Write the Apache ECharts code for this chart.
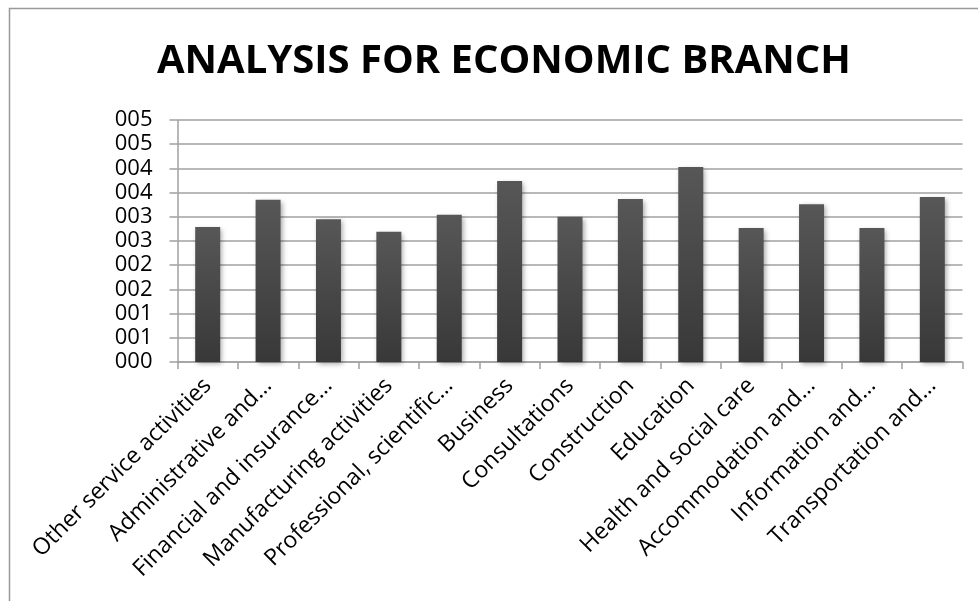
<!DOCTYPE html>
<html>
<head>
<meta charset="utf-8">
<script src="https://cdn.jsdelivr.net/npm/echarts@6/dist/echarts.min.js"></script>
<style>
  html, body { margin: 0; padding: 0; background: #fff; }
  #chart { width: 978px; height: 601px; }
</style>
</head>
<body>
<div id="chart"></div>
<script>
// branch names as shown on the axis (truncated like the original)
const branches = [
  'Other service activities',
  'Administrative and…',
  'Financial and insurance…',
  'Manufacturing activities',
  'Professional, scientific…',
  'Business',
  'Consultations',
  'Construction',
  'Education',
  'Health and social care',
  'Accommodation and…',
  'Information and…',
  'Transportation and…'
];
const scores = [2.79, 3.35, 2.95, 2.69, 3.04, 3.74, 3.00, 3.37, 4.03, 2.77, 3.26, 2.77, 3.41];

const chart = echarts.init(document.getElementById('chart'));

const font = '"Open Sans", "Noto Sans", sans-serif';

chart.setOption({
  backgroundColor: '#fff',
  animation: false,
  title: {
    text: 'ANALYSIS FOR ECONOMIC BRANCH',
    left: 152,
    top: 37,
    textStyle: { fontFamily: font, fontWeight: 'bold', fontSize: 40, color: '#000' }
  },
  graphic: [{
    type: 'rect',
    shape: { x: 9.5, y: 8.5, width: 990, height: 620 },
    style: { fill: 'none', stroke: '#999', lineWidth: 1.5 }
  }],
  grid: { left: 177.5, right: 15.5, top: 120, bottom: 239 },
  xAxis: {
    type: 'category',
    data: branches,
    axisLine: { lineStyle: { color: '#a0a0a0', width: 1.5 } },
    axisTick: { show: true, length: 7, lineStyle: { color: '#a0a0a0', width: 1.5 } },
    axisLabel: {
      interval: 0,
      rotate: 45,
      margin: 20,
      fontFamily: font,
      fontSize: 23,
      color: '#000'
    }
  },
  yAxis: {
    type: 'value',
    min: 0,
    max: 5,
    interval: 0.5,
    axisLine: { show: true, lineStyle: { color: '#a0a0a0', width: 1.5 } },
    axisTick: { show: true, length: 8, lineStyle: { color: '#a0a0a0', width: 1.5 } },
    splitLine: { lineStyle: { color: '#a0a0a0', width: 1.5 } },
    axisLabel: {
      margin: 25,
      fontFamily: font,
      fontSize: 22,
      color: '#000',
      formatter: v => String(Math.round(v)).padStart(3, '0')
    }
  },
  series: [{
    type: 'bar',
    data: scores,
    barWidth: 25,
    itemStyle: {
      color: new echarts.graphic.LinearGradient(0, 0, 0, 1, [
        { offset: 0, color: '#575757' },
        { offset: 1, color: '#383838' }
      ]),
      shadowColor: 'rgba(0,0,0,0.35)',
      shadowBlur: 5,
      shadowOffsetX: 2,
      shadowOffsetY: 2
    }
  }]
});
</script>
</body>
</html>
